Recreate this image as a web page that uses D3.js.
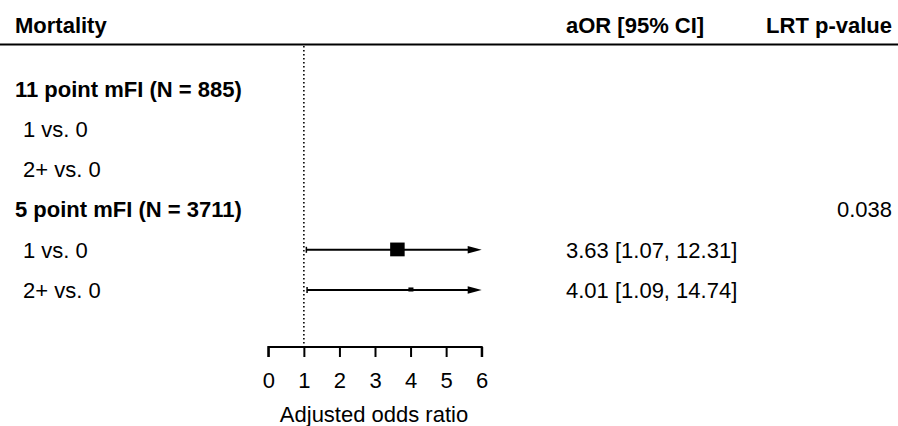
<!DOCTYPE html>
<html>
<head>
<meta charset="utf-8">
<script src="https://cdn.jsdelivr.net/npm/d3@7/dist/d3.min.js"></script>
<style>
  html, body { margin: 0; padding: 0; background: #fff; }
  text { font-family: "Liberation Sans", Arial, Helvetica, sans-serif; fill: #000; }
</style>
</head>
<body>
<svg id="chart" width="898" height="426"></svg>
<script>
// ---- data ----
const headerLabels = ["Mortality", "aOR [95% CI]", "LRT p-value"];
const rowLabels = ["11 point mFI (N = 885)", "1 vs. 0", "2+ vs. 0", "5 point mFI (N = 3711)", "1 vs. 0", "2+ vs. 0"];
const rowIsGroup = [true, false, false, true, false, false];
const estimates = [null, null, null, null, 3.63, 4.01];
const lowerCI = [null, null, null, null, 1.07, 1.09];
const upperCI = [null, null, null, null, 12.31, 14.74];
const aorLabels = ["", "", "", "", "3.63 [1.07, 12.31]", "4.01 [1.09, 14.74]"];
const pValues = ["", "", "", "0.038", "", ""];
const boxWeights = [0, 0, 0, 0, 1.0, 0.35];
const xTicks = [0, 1, 2, 3, 4, 5, 6];
const xLabel = "Adjusted odds ratio";
const refValue = 1;

// ---- layout ----
const svg = d3.select("#chart");
const W = 898, H = 426;
const fs = 22;
const x = d3.scaleLinear().domain([0, 6]).range([268.3, 481.7]);
const y = d3.scaleLinear().domain([0, 5]).range([89, 290]);
const axisY = 347;
const boxScale = d3.scaleLinear().domain([0, 1]).range([0, 14.5]);

// header
const hdr = svg.append("g");
hdr.append("text").attr("x", 15).attr("y", 33).attr("font-size", fs).attr("font-weight", "bold").text(headerLabels[0]);
hdr.append("text").attr("x", 566).attr("y", 33).attr("font-size", fs).attr("font-weight", "bold").text(headerLabels[1]);
hdr.append("text").attr("x", 892).attr("y", 33).attr("font-size", fs).attr("font-weight", "bold").attr("text-anchor", "end").text(headerLabels[2]);
svg.append("line").attr("x1", 0).attr("x2", W).attr("y1", 44.5).attr("y2", 44.5).attr("stroke", "#000").attr("stroke-width", 2);

// reference line
svg.append("line")
  .attr("x1", x(refValue)).attr("x2", x(refValue))
  .attr("y1", 46).attr("y2", axisY)
  .attr("stroke", "#000").attr("stroke-width", 1.6).attr("stroke-dasharray", "1.6,2.4");

// row labels
svg.append("g").selectAll("text").data(rowLabels).join("text")
  .attr("x", (d, i) => rowIsGroup[i] ? 15 : 23)
  .attr("y", (d, i) => y(i))
  .attr("dy", "0.35em")
  .attr("font-size", fs)
  .attr("font-weight", (d, i) => rowIsGroup[i] ? "bold" : "normal")
  .text(d => d);

// aOR labels
svg.append("g").selectAll("text").data(aorLabels).join("text")
  .attr("x", 566).attr("y", (d, i) => y(i)).attr("dy", "0.35em")
  .attr("font-size", fs).text(d => d);

// p-values
svg.append("g").selectAll("text").data(pValues).join("text")
  .attr("x", 892).attr("y", (d, i) => y(i)).attr("dy", "0.35em")
  .attr("text-anchor", "end")
  .attr("font-size", fs).text(d => d);

// CI lines
const idx = estimates.map((d, i) => i).filter(i => estimates[i] !== null);
const xmax = x.domain()[1];
const ci = svg.append("g");
idx.forEach(i => {
  const yy = y(i);
  const lo = Math.max(lowerCI[i], x.domain()[0]);
  const hi = Math.min(upperCI[i], xmax);
  const clipped = upperCI[i] > xmax;
  ci.append("line").attr("x1", x(lo)).attr("x2", clipped ? x(hi) - 8 : x(hi))
    .attr("y1", yy).attr("y2", yy).attr("stroke", "#000").attr("stroke-width", 2);
  ci.append("line").attr("x1", x(lo)).attr("x2", x(lo))
    .attr("y1", yy - 3).attr("y2", yy + 3).attr("stroke", "#000").attr("stroke-width", 1.5);
  if (clipped) {
    const tip = x(hi);
    ci.append("path")
      .attr("d", `M${tip},${yy} L${tip - 14},${yy - 3.8} L${tip - 14},${yy + 3.8} Z`)
      .attr("fill", "#000");
  }
  const s = boxScale(boxWeights[i]);
  ci.append("rect")
    .attr("x", x(estimates[i]) - s / 2).attr("y", yy - s / 2)
    .attr("width", s).attr("height", s * (boxWeights[i] < 0.5 ? 0.8 : 0.95))
    .attr("fill", "#000");
});

// axis
const axis = d3.axisBottom(x).tickValues(xTicks).tickSize(10).tickPadding(15).tickFormat(d3.format("d"));
const ag = svg.append("g").attr("transform", `translate(0,${axisY})`).call(axis);
ag.select(".domain").attr("d", `M${x(0)},10V0H${x(6)}V10`).attr("stroke-width", 2);
ag.selectAll(".tick line").attr("stroke-width", 2);
ag.selectAll(".tick text").attr("font-size", fs).attr("font-family", "Liberation Sans, Arial, sans-serif");

svg.append("text").attr("x", (x(0) + x(6)) / 2 - 1).attr("y", 422)
  .attr("text-anchor", "middle").attr("font-size", fs).text(xLabel);
</script>
</body>
</html>
